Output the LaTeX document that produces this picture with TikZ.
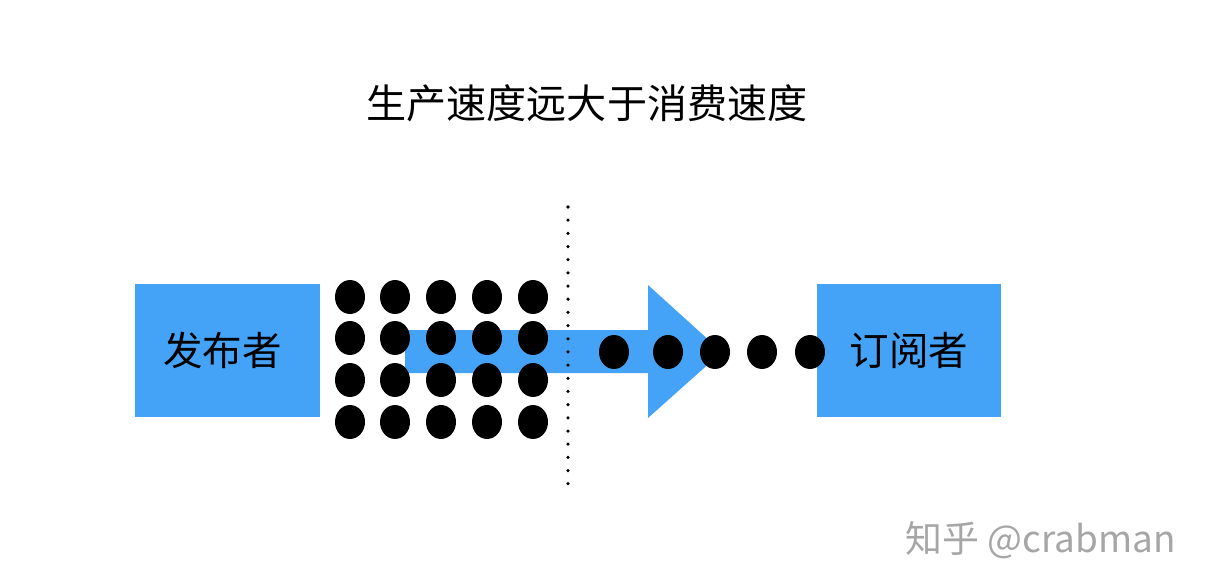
\documentclass[tikz,border=0pt]{standalone}
\usepackage{fontspec}
\setmainfont{Noto Sans CJK SC}
\usetikzlibrary{positioning,shapes.geometric}
\definecolor{boxblue}{HTML}{45A3F7}
\tikzset{
	party/.style = {fill=boxblue, minimum width=3.7cm, minimum height=2.66cm, inner sep=0pt, font=\fontsize{22.5}{26}\selectfont},
	msg/.style = {ellipse, fill=black, minimum width=0.6cm, minimum height=0.68cm, inner sep=0pt},
}
\begin{document}
\begin{tikzpicture}[x=0.02cm, y=-0.02cm]
	\useasboundingbox (0,0) rectangle (1208,588);
	\node (title) [font=\fontsize{22.8}{26}\selectfont] at (587,103) {生产速度远大于消费速度};
	\node[party] (pub) at (227.5,350.5) {\hspace*{-0.2cm}发布者};
	\node[party] (sub) at (909,350.5) {订阅者};
	% arrow
	\fill[boxblue] (405,330) -- (648,330) -- (648,285) -- (722,352) -- (648,418) -- (648,373) -- (405,373) -- cycle;
	% queued messages
	\foreach \c [count=\i] in {350,395,441,487,533}
		\foreach \r [count=\j] in {297,338,380,422}
			\node[msg] (q\i\j) at (\c,\r) {};
	% sent messages
	\foreach \c [count=\i] in {614,668,715,762,810}
		\node[msg] (s\i) at (\c,352) {};
	\coordinate (top) at (568,207);
	\coordinate (bot) at (568,487);
	\draw[line width=2pt, line cap=round, dash pattern=on 0pt off 7.5pt] (top) -- (bot);
	\node (mark) [text=gray!70, font=\fontsize{21}{24}\selectfont, anchor=east] at (1182,540) {知乎 @crabman};
\end{tikzpicture}
\end{document}
